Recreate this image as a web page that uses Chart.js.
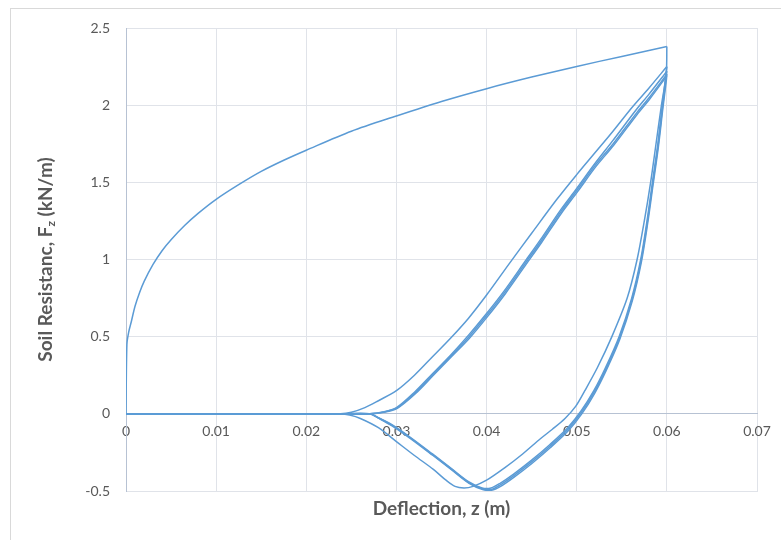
<!DOCTYPE html>
<html lang="en">
<head>
    <meta charset="UTF-8">
    <title>Soil Resistance vs Deflection</title>
    <script src="https://cdn.jsdelivr.net/npm/chart.js"></script>
    <style>
        body { margin: 0; background: #fff; }
        canvas { display: block; }
    </style>
</head>
<body>
    <canvas id="chart" width="781" height="540"></canvas>

    <script>
        // backbone (first loading)
        var backboneZ = [0, 0.0001, 0.0003, 0.0006, 0.001, 0.0015, 0.002, 0.003, 0.004, 0.005, 0.0065, 0.008, 0.01, 0.0125, 0.015, 0.0175, 0.02, 0.025, 0.03, 0.035, 0.04, 0.045, 0.05, 0.055, 0.06];
        var backboneF = [0, 0.45, 0.53, 0.6, 0.697, 0.785, 0.857, 0.968, 1.057, 1.128, 1.22, 1.299, 1.39, 1.485, 1.571, 1.643, 1.708, 1.831, 1.93, 2.024, 2.107, 2.182, 2.251, 2.316, 2.38];

        // cycle 1 unloading (outer loop)
        var unload1Z = [0.06, 0.05993, 0.0594, 0.0588, 0.0582, 0.0575, 0.0567, 0.0556, 0.0539, 0.0523, 0.0509, 0.0499, 0.0487, 0.0473, 0.046, 0.044, 0.042, 0.04, 0.0385, 0.0375, 0.0365, 0.0355, 0.0341, 0.032, 0.03, 0.028, 0.026, 0.0248, 0.0238, 0.021, 0];
        var unload1F = [2.38, 2.2, 2.0, 1.75, 1.5, 1.25, 1.0, 0.75, 0.5, 0.3, 0.15, 0.05, -0.03, -0.1, -0.16, -0.26, -0.35, -0.43, -0.47, -0.48, -0.47, -0.43, -0.36, -0.27, -0.18, -0.09, -0.03, -0.008, 0, 0, 0];

        // cycle 1 reloading (outer loop)
        var reload1Z = [0, 0.021, 0.0238, 0.025, 0.0265, 0.028, 0.03, 0.032, 0.034, 0.036, 0.038, 0.04, 0.0426, 0.045, 0.0478, 0.05, 0.052, 0.054, 0.0562, 0.058, 0.06];
        var reload1F = [0, 0, 0, 0.01, 0.04, 0.085, 0.15, 0.25, 0.37, 0.49, 0.62, 0.77, 0.98, 1.17, 1.39, 1.55, 1.69, 1.83, 1.99, 2.11, 2.25];

        // cycles 2-4 unloading (inner loops)
        var unload2Z = [0.06, 0.0599, 0.0595, 0.059, 0.0584, 0.0578, 0.0571, 0.0561, 0.0547, 0.0532, 0.0519, 0.0505, 0.049, 0.047, 0.045, 0.043, 0.0415, 0.0405, 0.0395, 0.038, 0.036, 0.034, 0.0315, 0.0295, 0.028, 0.027, 0.024, 0];
        var unload2F = [2.25, 2.2, 2.0, 1.75, 1.5, 1.25, 1.0, 0.75, 0.5, 0.3, 0.15, 0.02, -0.09, -0.2, -0.3, -0.39, -0.45, -0.48, -0.48, -0.44, -0.35, -0.26, -0.15, -0.07, -0.025, 0, 0, 0];
        var unload3Z = [0.06, 0.05992, 0.05953, 0.05903, 0.05843, 0.05783, 0.05713, 0.05613, 0.05473, 0.05323, 0.05193, 0.05053, 0.04903, 0.04703, 0.04503, 0.04303, 0.04153, 0.04053, 0.03953, 0.03803, 0.03603, 0.03403, 0.03153, 0.02953, 0.02803, 0.02703, 0.024, 0];
        var unload3F = [2.22, 2.18, 1.99, 1.74, 1.49, 1.24, 0.99, 0.74, 0.49, 0.29, 0.14, 0.01, -0.1, -0.21, -0.31, -0.4, -0.46, -0.49, -0.485, -0.445, -0.355, -0.265, -0.155, -0.075, -0.027, 0, 0, 0];
        var unload4Z = [0.06, 0.05994, 0.05956, 0.05906, 0.05846, 0.05786, 0.05716, 0.05616, 0.05476, 0.05326, 0.05196, 0.05056, 0.04906, 0.04706, 0.04506, 0.04306, 0.04156, 0.04056, 0.03956, 0.03806, 0.03606, 0.03406, 0.03156, 0.02956, 0.02806, 0.02706, 0.024, 0];
        var unload4F = [2.2, 2.16, 1.98, 1.73, 1.48, 1.23, 0.98, 0.73, 0.48, 0.28, 0.13, 0.0, -0.11, -0.22, -0.32, -0.41, -0.47, -0.495, -0.49, -0.45, -0.36, -0.27, -0.16, -0.08, -0.03, 0, 0, 0];

        // cycles 2-4 reloading (inner loops)
        var reload2Z = [0, 0.024, 0.027, 0.0285, 0.03, 0.032, 0.034, 0.036, 0.038, 0.04, 0.042, 0.0443, 0.046, 0.0482, 0.05, 0.052, 0.054, 0.0566, 0.058, 0.06];
        var reload2F = [0, 0, 0, 0.012, 0.04, 0.14, 0.26, 0.38, 0.51, 0.65, 0.8, 0.99, 1.13, 1.32, 1.46, 1.62, 1.77, 1.97, 2.07, 2.22];
        var reload3Z = [0, 0.024, 0.02705, 0.02855, 0.03005, 0.03205, 0.03405, 0.03605, 0.03805, 0.04005, 0.04205, 0.04435, 0.04605, 0.04825, 0.05005, 0.05205, 0.05405, 0.05665, 0.05805, 0.06];
        var reload3F = [0, 0, 0, 0.011, 0.038, 0.135, 0.255, 0.375, 0.5, 0.64, 0.79, 0.98, 1.12, 1.31, 1.45, 1.61, 1.75, 1.95, 2.05, 2.2];
        var reload4Z = [0, 0.024, 0.0271, 0.0286, 0.0301, 0.0321, 0.0341, 0.0361, 0.0381, 0.0401, 0.0421, 0.0444, 0.0461, 0.0483, 0.0501, 0.0521, 0.0541, 0.0567, 0.0581, 0.06];
        var reload4F = [0, 0, 0, 0.01, 0.036, 0.13, 0.25, 0.37, 0.49, 0.63, 0.78, 0.97, 1.11, 1.3, 1.44, 1.6, 1.74, 1.94, 2.04, 2.19];

        var xTicks = [0, 0.01, 0.02, 0.03, 0.04, 0.05, 0.06, 0.07];
        var yTicks = [-0.5, 0, 0.5, 1, 1.5, 2, 2.5];

        var lineColor = '#5b9bd5';
        var gridColor = '#e0e3e9';
        var axisColor = '#b7c2d3';
        var textColor = '#595959';
        var fontFamily = 'Lato, "Open Sans", sans-serif';

        function toPoints(zs, fs) {
            return zs.map(function(z, i) { return {x: z, y: fs[i]}; });
        }

        function makeSet(zs, fs) {
            return {
                data: toPoints(zs, fs),
                showLine: true,
                borderColor: lineColor,
                borderWidth: 1.5,
                pointRadius: 0,
                tension: 0.3,
                fill: false
            };
        }

        var frame = {
            id: 'frame',
            beforeDraw: function(chart) {
                var ctx = chart.ctx;
                ctx.save();
                ctx.fillStyle = '#fff';
                ctx.fillRect(0, 0, chart.width, chart.height);
                ctx.strokeStyle = '#d9d9d9';
                ctx.lineWidth = 1;
                ctx.strokeRect(10.5, 8.5, 900, 700);
                ctx.restore();
            }
        };

        // y title with subscript z
        var yTitle = {
            id: 'yTitle',
            afterDraw: function(chart) {
                var ctx = chart.ctx;
                var area = chart.chartArea;
                var parts = [
                    ['Soil Resistanc, F', 'bold 19px ' + fontFamily, 0],
                    ['z', 'bold 12px ' + fontFamily, 5],
                    [' (kN/m)', 'bold 19px ' + fontFamily, 0]
                ];
                ctx.save();
                var total = 0;
                parts.forEach(function(p) { ctx.font = p[1]; total += ctx.measureText(p[0]).width; });
                ctx.translate(46, (area.top + area.bottom) / 2);
                ctx.rotate(-Math.PI / 2);
                ctx.fillStyle = textColor;
                ctx.textBaseline = 'middle';
                var x = -total / 2;
                parts.forEach(function(p) {
                    ctx.font = p[1];
                    ctx.fillText(p[0], x, p[2]);
                    x += ctx.measureText(p[0]).width;
                });
                ctx.restore();
            }
        };

        function fmt(v) {
            return String(Math.round(v * 100) / 100);
        }

        new Chart(document.getElementById('chart'), {
            type: 'scatter',
            data: {
                datasets: [
                    makeSet(backboneZ, backboneF),
                    makeSet(unload1Z, unload1F),
                    makeSet(reload1Z, reload1F),
                    makeSet(unload2Z, unload2F),
                    makeSet(reload2Z, reload2F),
                    makeSet(unload3Z, unload3F),
                    makeSet(reload3Z, reload3F),
                    makeSet(unload4Z, unload4F),
                    makeSet(reload4Z, reload4F)
                ]
            },
            options: {
                responsive: false,
                animation: false,
                layout: { padding: { left: 0, right: 24, top: 28, bottom: 20 } },
                plugins: {
                    legend: { display: false },
                    tooltip: { enabled: false }
                },
                scales: {
                    x: {
                        type: 'linear',
                        position: 'bottom',
                        min: xTicks[0],
                        max: xTicks[xTicks.length - 1],
                        afterBuildTicks: function(s) { s.ticks = xTicks.map(function(v) { return {value: v}; }); },
                        ticks: { display: false },
                        grid: { color: gridColor, drawTicks: false },
                        border: { color: gridColor },
                        title: {
                            display: true,
                            text: 'Deflection, z (m)',
                            color: textColor,
                            font: { family: fontFamily, size: 19, weight: 'bold' },
                            padding: 0
                        },
                        afterFit: function(s) { s.height = 29; }
                    },
                    x2: {
                        type: 'linear',
                        position: { y: 0 },
                        min: xTicks[0],
                        max: xTicks[xTicks.length - 1],
                        afterBuildTicks: function(s) { s.ticks = xTicks.map(function(v) { return {value: v}; }); },
                        ticks: {
                            padding: 9,
                            color: textColor,
                            font: { family: fontFamily, size: 14 },
                            maxRotation: 0,
                            callback: fmt
                        },
                        grid: { display: false, drawTicks: false },
                        border: { color: axisColor }
                    },
                    y: {
                        min: yTicks[0],
                        max: yTicks[yTicks.length - 1],
                        afterBuildTicks: function(s) { s.ticks = yTicks.map(function(v) { return {value: v}; }); },
                        ticks: {
                            padding: 16,
                            color: textColor,
                            font: { family: fontFamily, size: 14 },
                            callback: function(v) { return String(v); }
                        },
                        grid: { color: gridColor, drawTicks: false },
                        border: { color: axisColor },
                        afterFit: function(s) { s.width = 126; }
                    }
                }
            },
            plugins: [frame, yTitle]
        });
    </script>
</body>
</html>
